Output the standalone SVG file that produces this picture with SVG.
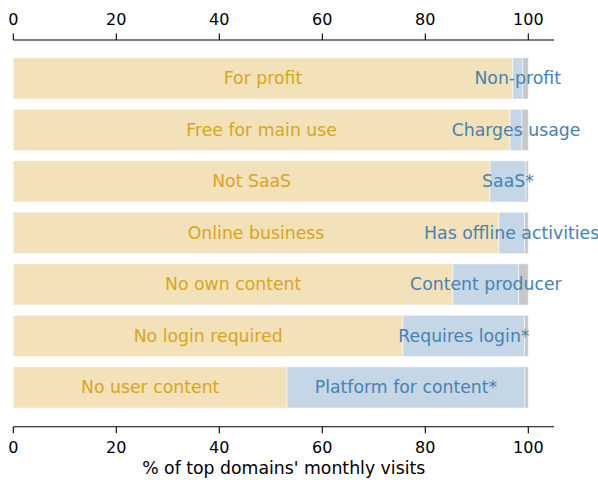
<svg xmlns="http://www.w3.org/2000/svg" width="598" height="480" viewBox="0 0 598 480">
<style>
text{font-family:"DejaVu Sans","Liberation Sans",sans-serif;font-size:17.3px;text-anchor:middle}
.tk text{font-size:16px}
.tan{fill:#F2E1B9}
.blu{fill:#C5D7E7}
.gry{fill:#C8C8C8}
.bar{stroke:#ffffff;stroke-opacity:0.5;stroke-width:1}
.lt{fill:#DAA520}
.rt{fill:#4682B4}
.ax{stroke:#000;stroke-width:1.1;fill:none}
.tk{fill:#000}
</style>
<rect width="598" height="480" fill="#fff"/>
<g id="axes">
<path class="ax" d="M13.3,40H554M13.3,40V33.5M116.3,40V33.5M219.3,40V33.5M322.3,40V33.5M425.3,40V33.5M528.3,40V33.5"/>
<path class="ax" d="M13.3,426.7H554M13.3,426.7V433.2M116.3,426.7V433.2M219.3,426.7V433.2M322.3,426.7V433.2M425.3,426.7V433.2M528.3,426.7V433.2"/>
<g class="tk">
<text x="13.3" y="25">0</text><text x="116.3" y="25">20</text><text x="219.3" y="25">40</text><text x="322.3" y="25">60</text><text x="425.3" y="25">80</text><text x="528.3" y="25">100</text>
<text x="13.3" y="452.5">0</text><text x="116.3" y="452.5">20</text><text x="219.3" y="452.5">40</text><text x="322.3" y="452.5">60</text><text x="425.3" y="452.5">80</text><text x="528.3" y="452.5">100</text>
</g>
<text x="283.7" y="474" fill="#000">% of top domains' monthly visits</text>
</g>
<g id="row1">
<rect class="bar tan" x="13.3" y="57.8" width="499.4" height="41.2"/>
<rect class="bar blu" x="512.7" y="57.8" width="10" height="41.2"/>
<rect class="bar gry" x="522.7" y="57.8" width="5.6" height="41.2"/>
<text class="lt" x="263" y="84.3">For profit</text>
<text class="rt" x="517.7" y="84.3">Non-profit</text>
</g>
<g id="row2">
<rect class="bar tan" x="13.3" y="109.3" width="496.7" height="41.2"/>
<rect class="bar blu" x="510" y="109.3" width="12" height="41.2"/>
<rect class="bar gry" x="522" y="109.3" width="6.3" height="41.2"/>
<text class="lt" x="261.6" y="135.8">Free for main use</text>
<text class="rt" x="516" y="135.8">Charges usage</text>
</g>
<g id="row3">
<rect class="bar tan" x="13.3" y="160.8" width="476.7" height="41.2"/>
<rect class="bar blu" x="490" y="160.8" width="36" height="41.2"/>
<rect class="bar gry" x="526" y="160.8" width="2.3" height="41.2"/>
<text class="lt" x="251.6" y="187.3">Not SaaS</text>
<text class="rt" x="508" y="187.3">SaaS*</text>
</g>
<g id="row4">
<rect class="bar tan" x="13.3" y="212.3" width="485.4" height="41.2"/>
<rect class="bar blu" x="498.7" y="212.3" width="26" height="41.2"/>
<rect class="bar gry" x="524.7" y="212.3" width="3.6" height="41.2"/>
<text class="lt" x="256" y="238.8">Online business</text>
<text class="rt" x="511.7" y="238.8">Has offline activities</text>
</g>
<g id="row5">
<rect class="bar tan" x="13.3" y="263.8" width="439.7" height="41.2"/>
<rect class="bar blu" x="453" y="263.8" width="65.7" height="41.2"/>
<rect class="bar gry" x="518.7" y="263.8" width="9.6" height="41.2"/>
<text class="lt" x="233.2" y="290.3">No own content</text>
<text class="rt" x="485.9" y="290.3">Content producer</text>
</g>
<g id="row6">
<rect class="bar tan" x="13.3" y="315.3" width="389.7" height="41.2"/>
<rect class="bar blu" x="403" y="315.3" width="121.7" height="41.2"/>
<rect class="bar gry" x="524.7" y="315.3" width="3.6" height="41.2"/>
<text class="lt" x="208.2" y="341.8">No login required</text>
<text class="rt" x="463.9" y="341.8">Requires login*</text>
</g>
<g id="row7">
<rect class="bar tan" x="13.3" y="366.8" width="273.7" height="41.2"/>
<rect class="bar blu" x="287" y="366.8" width="238" height="41.2"/>
<rect class="bar gry" x="525" y="366.8" width="3.3" height="41.2"/>
<text class="lt" x="150.2" y="393.3">No user content</text>
<text class="rt" x="406" y="393.3">Platform for content*</text>
</g>
</svg>
